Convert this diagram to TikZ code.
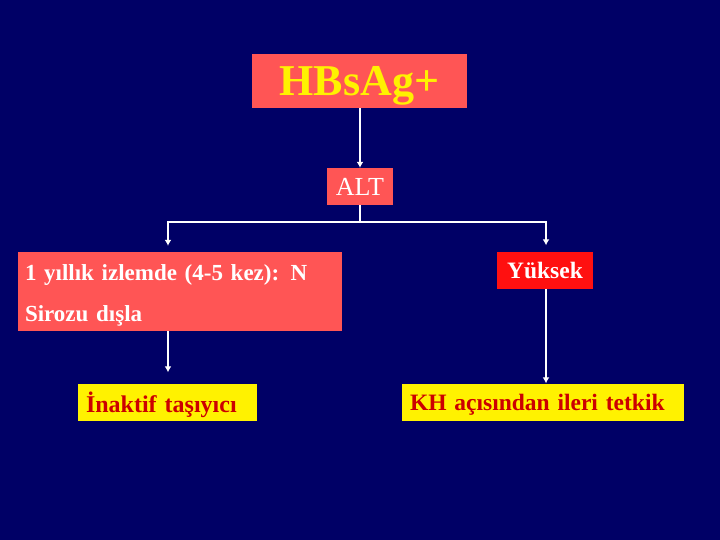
\documentclass[tikz,border=0pt]{standalone}
\usepackage{fontspec}
\setmainfont{Liberation Serif}
\usepackage{tikz}
\usetikzlibrary{arrows.meta}

\definecolor{navy}{HTML}{000066}
\definecolor{salmon}{HTML}{FF5555}
\definecolor{brightred}{HTML}{FF1010}
\definecolor{darkred}{HTML}{CC0000}

\begin{document}
\begin{tikzpicture}[x=1pt, y=-1pt]
\tikzset{box/.style = {shape=rectangle, inner sep=0pt, text depth=0pt, font=\bfseries}}
\tikzset{edge/.style = {->, > = {Latex[length=6pt, width=7pt]}, white, line width=1.6pt}}
\fill[navy] (0,0) rectangle (720,540);
\useasboundingbox (0,0) rectangle (720,540);
% boxes
\node[box, fill=salmon, text=yellow, minimum width=215pt, minimum height=54pt, font=\fontsize{44}{48}\selectfont\bfseries](hbs) at (359.5, 81) {HBsAg+};
\node[box, fill=salmon, text=white, minimum width=66pt, minimum height=37pt, font=\fontsize{26}{30}\selectfont](alt) at (360, 186.5) {ALT};
\node[shape=rectangle, inner sep=0pt, fill=salmon, text=white, minimum width=324pt, minimum height=79pt, text width=310pt, align=left, font=\fontsize{23}{41}\selectfont\bfseries](izlem) at (180, 291.5) {\rule{0pt}{23pt}1 yıllık izlemde (4-5 kez): N\\Sirozu dışla};
\node[box, fill=brightred, text=white, minimum width=96pt, minimum height=37pt, font=\fontsize{23.5}{26}\selectfont\bfseries](yuksek) at (545, 270) {Yüksek};
\node[box, fill=yellow, text=darkred, minimum width=179pt, minimum height=37pt, text width=163pt, align=left, font=\fontsize{24}{26}\selectfont\bfseries](inaktif) at (167.5, 402) {İnaktif taşıyıcı};
\node[box, fill=yellow, text=darkred, minimum width=282pt, minimum height=37pt, text width=266pt, align=left, font=\fontsize{23.5}{26}\selectfont\bfseries](kh) at (543, 402) {KH açısından ileri tetkik};
\coordinate (split) at (360, 222);
% connectors
\draw[edge] (hbs.south -| alt.north) -- (alt);
\draw[white, line width=1.6pt] (alt) -- (split);
\draw[edge, shorten >=6pt] (split) -| ([xshift=-12pt]izlem.north);
\draw[edge, shorten >=6pt] (split) -| ([xshift=1pt]yuksek.north);
\draw[edge, shorten >=11pt] ([xshift=-12pt]izlem.south) -- ([xshift=-12pt]izlem.south |- inaktif.north);
\draw[edge] ([xshift=1pt]yuksek.south) -- ([xshift=1pt]yuksek.south |- kh.north);
\end{tikzpicture}
\end{document}
